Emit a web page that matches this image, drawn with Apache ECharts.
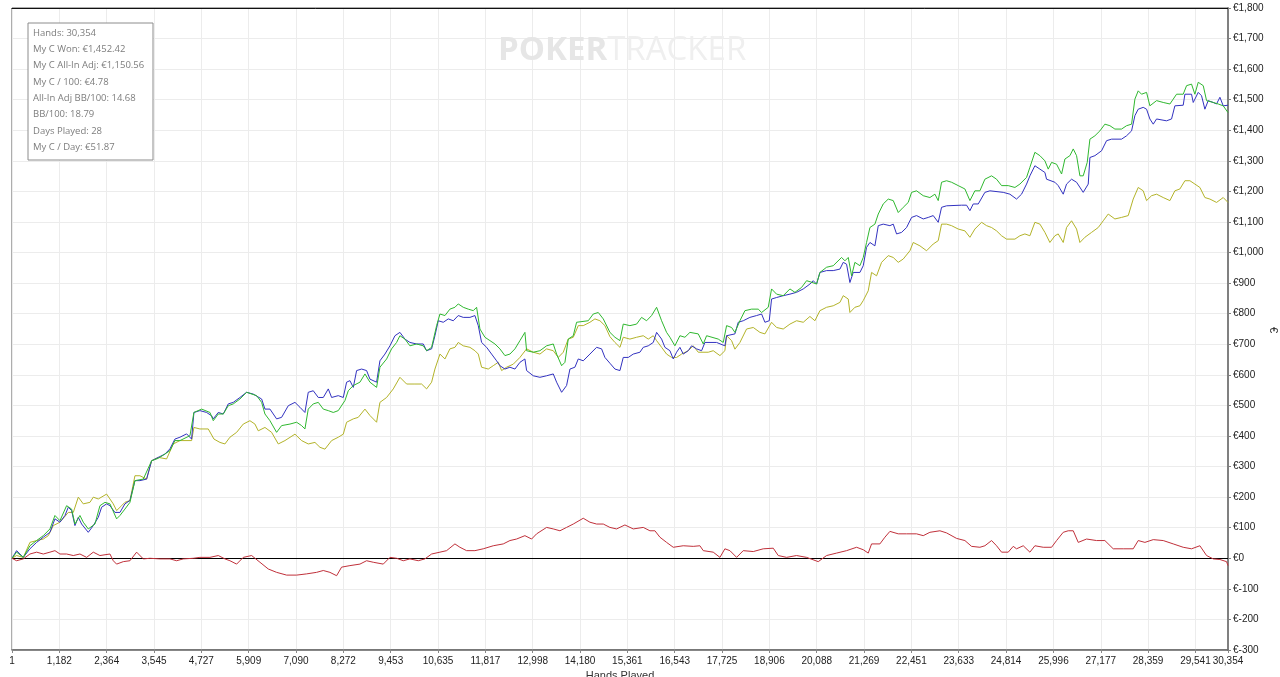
<!DOCTYPE html>
<html>
<head>
<meta charset="utf-8">
<script src="https://cdn.jsdelivr.net/npm/echarts@6/dist/echarts.min.js"></script>
<style>
html,body{margin:0;padding:0;background:#fff;}
#chart{width:1280px;height:677px;}
</style>
</head>
<body>
<div id="chart"></div>
<script>
// ---- data (x = hand number, y = euro) ----
const statLines = [
  'Hands: 30,354',
  'My C Won: €1,452.42',
  'My C All-In Adj: €1,150.56',
  'My C / 100: €4.78',
  'All-In Adj BB/100: 14.68',
  'BB/100: 18.79',
  'Days Played: 28',
  'My C / Day: €51.87'
];
const yAxisTitle = '€';
const handsMin = 1;
const handsMax = 30354;
const handsStep = 1181.6;
const yMin = -300, yMax = 1800, yStep = 100;

const greenWon = [[1,0],[116,20],[283,3],[449,41],[616,58],[782,74],[948,96],[1073,140],[1198,123],[1364,172],[1489,161],[1572,112],[1697,140],[1780,118],[1905,96],[2072,112],[2196,172],[2321,183],[2446,178],[2612,129],[2696,140],[2820,161],[2945,183],[3070,254],[3278,259],[3486,319],[3652,327],[3819,341],[3944,352],[4068,385],[4193,385],[4443,401],[4542,477],[4734,488],[4942,477],[5025,450],[5150,472],[5275,472],[5400,499],[5524,505],[5691,521],[5857,543],[6107,532],[6232,510],[6315,472],[6440,450],[6606,412],[6731,434],[6939,439],[7105,445],[7230,434],[7313,423],[7396,488],[7521,505],[7646,510],[7771,488],[7896,483],[8020,477],[8145,483],[8312,516],[8395,548],[8520,565],[8686,576],[8811,603],[8936,576],[9102,559],[9185,625],[9352,652],[9476,685],[9601,706],[9684,728],[9809,717],[9934,695],[10100,701],[10267,695],[10350,679],[10475,690],[10600,761],[10683,799],[10808,794],[10932,815],[11057,821],[11140,832],[11265,821],[11390,815],[11515,810],[11598,821],[11681,750],[11806,723],[11931,712],[12056,701],[12180,685],[12305,663],[12430,668],[12555,685],[12680,712],[12804,739],[12846,679],[13012,674],[13179,679],[13345,695],[13512,701],[13595,668],[13720,630],[13803,641],[13886,717],[14011,728],[14094,772],[14385,777],[14510,799],[14635,804],[14760,783],[14926,739],[15051,723],[15176,712],[15259,766],[15425,761],[15592,766],[15716,788],[15841,777],[15966,794],[16091,821],[16216,777],[16340,739],[16424,723],[16548,695],[16673,728],[16798,723],[16923,739],[17131,734],[17256,701],[17339,728],[17630,717],[17755,706],[17838,761],[17963,755],[18046,739],[18171,777],[18296,810],[18462,815],[18628,815],[18712,804],[18878,821],[18961,881],[19086,864],[19252,859],[19419,881],[19544,870],[19710,886],[19835,908],[19960,903],[20001,902],[20084,897],[20168,935],[20334,952],[20500,957],[20708,984],[20792,973],[20875,984],[20958,924],[21041,968],[21166,957],[21249,984],[21332,1033],[21416,1082],[21540,1093],[21624,1126],[21748,1159],[21873,1175],[21998,1170],[22123,1131],[22248,1148],[22372,1164],[22456,1197],[22580,1202],[22747,1186],[22913,1180],[23038,1191],[23121,1170],[23204,1230],[23329,1235],[23454,1230],[23620,1219],[23787,1208],[23912,1170],[24036,1202],[24161,1202],[24286,1240],[24452,1251],[24577,1240],[24702,1219],[24868,1219],[25035,1213],[25160,1224],[25326,1246],[25409,1279],[25534,1328],[25659,1317],[25784,1300],[25867,1273],[25950,1295],[26075,1289],[26200,1257],[26283,1306],[26408,1317],[26491,1339],[26574,1317],[26657,1251],[26740,1251],[26840,1295],[26907,1371],[27032,1382],[27156,1398],[27281,1420],[27406,1415],[27531,1404],[27697,1404],[27822,1415],[27947,1420],[28030,1502],[28113,1529],[28196,1518],[28321,1524],[28404,1480],[28571,1497],[28737,1491],[28904,1486],[28987,1502],[29070,1518],[29236,1518],[29320,1546],[29444,1551],[29527,1518],[29611,1557],[29736,1546],[29819,1497],[29985,1491],[30110,1486],[30235,1480],[30354,1458]];

const blueLine = [[1,0],[116,25],[283,3],[449,31],[616,52],[782,69],[948,85],[1073,129],[1198,118],[1323,140],[1406,167],[1489,156],[1572,107],[1656,134],[1739,112],[1905,85],[2030,107],[2155,134],[2238,167],[2363,178],[2446,172],[2571,150],[2696,150],[2820,178],[2945,189],[3070,254],[3195,254],[3361,259],[3486,319],[3652,330],[3819,341],[3944,358],[4068,390],[4193,396],[4360,407],[4484,390],[4542,477],[4692,483],[4859,477],[4984,466],[5025,456],[5150,477],[5275,472],[5400,505],[5524,510],[5691,526],[5857,543],[6024,537],[6232,521],[6315,488],[6440,488],[6606,456],[6731,461],[6897,499],[7064,510],[7188,494],[7313,477],[7396,543],[7521,548],[7646,526],[7771,526],[7896,554],[7979,526],[8145,532],[8270,526],[8353,576],[8436,581],[8520,559],[8603,614],[8728,619],[8852,614],[8936,586],[9102,576],[9185,646],[9310,668],[9435,695],[9560,728],[9684,739],[9809,717],[9934,706],[10100,701],[10267,701],[10350,679],[10475,685],[10558,728],[10641,777],[10766,772],[10891,783],[11016,777],[11140,794],[11265,788],[11432,788],[11556,794],[11640,761],[11723,706],[11848,690],[11972,668],[12097,646],[12180,630],[12305,619],[12430,625],[12555,619],[12680,641],[12804,652],[12846,614],[13012,597],[13179,592],[13345,597],[13512,603],[13595,576],[13720,543],[13844,565],[13928,619],[14052,625],[14136,652],[14260,646],[14427,668],[14593,690],[14718,685],[14801,657],[14926,638],[15051,619],[15176,614],[15259,657],[15384,657],[15508,668],[15675,674],[15758,690],[15883,695],[16008,706],[16091,739],[16216,717],[16299,690],[16424,679],[16507,652],[16590,674],[16673,690],[16756,668],[16881,679],[16964,695],[17089,685],[17214,679],[17297,706],[17588,706],[17796,695],[17838,728],[18046,734],[18129,772],[18254,777],[18420,788],[18587,794],[18712,799],[18795,772],[18903,777],[18961,848],[19086,853],[19252,859],[19419,864],[19585,870],[19752,881],[19918,897],[20001,908],[20084,897],[20168,935],[20334,941],[20500,941],[20667,946],[20750,968],[20833,962],[20916,902],[21000,935],[21166,935],[21249,957],[21332,1017],[21416,1033],[21540,1022],[21624,1088],[21748,1093],[21915,1088],[21998,1093],[22081,1061],[22206,1066],[22331,1082],[22456,1115],[22580,1121],[22747,1110],[22872,1115],[22996,1121],[23121,1099],[23204,1148],[23329,1153],[23704,1155],[23828,1155],[23912,1137],[23995,1159],[24120,1159],[24286,1197],[24411,1202],[24744,1197],[24910,1191],[25076,1175],[25201,1191],[25326,1224],[25409,1251],[25534,1284],[25659,1273],[25784,1262],[25825,1240],[26033,1230],[26116,1219],[26241,1191],[26324,1224],[26449,1240],[26574,1230],[26740,1197],[26865,1224],[26907,1311],[27032,1317],[27198,1333],[27323,1366],[27448,1371],[27697,1371],[27822,1382],[27947,1398],[28030,1448],[28113,1469],[28238,1475],[28321,1469],[28404,1437],[28488,1420],[28571,1437],[28820,1431],[28945,1437],[29028,1480],[29236,1482],[29278,1518],[29444,1518],[29486,1491],[29611,1524],[29694,1513],[29777,1469],[29860,1497],[29985,1491],[30068,1486],[30152,1508],[30235,1480],[30354,1482]];

const yellowAllInAdj = [[1,0],[116,9],[283,3],[449,52],[616,58],[782,63],[907,74],[1032,107],[1198,118],[1406,150],[1531,150],[1656,200],[1780,178],[1947,183],[2030,200],[2155,194],[2363,210],[2446,194],[2529,178],[2612,156],[2737,172],[2820,183],[2945,189],[3070,270],[3195,270],[3361,259],[3486,319],[3652,330],[3860,325],[4027,374],[4193,385],[4484,385],[4542,428],[4692,423],[4900,423],[5042,390],[5067,396],[5192,379],[5316,374],[5441,396],[5608,412],[5774,439],[5940,450],[6065,439],[6148,417],[6315,428],[6481,412],[6648,374],[6814,385],[7064,406],[7230,385],[7396,374],[7563,379],[7688,363],[7812,357],[7979,385],[8145,396],[8270,406],[8353,445],[8520,456],[8644,461],[8811,488],[8936,467],[9102,445],[9185,510],[9352,526],[9518,554],[9684,592],[9851,570],[10059,570],[10225,570],[10350,554],[10475,576],[10558,619],[10683,668],[10808,652],[10932,685],[11057,690],[11140,706],[11265,695],[11432,690],[11556,679],[11640,668],[11723,625],[11889,619],[12014,630],[12139,641],[12222,614],[12347,625],[12513,635],[12680,657],[12846,685],[13012,674],[13179,668],[13345,685],[13512,679],[13636,657],[13761,674],[13886,717],[14011,723],[14136,761],[14260,761],[14427,772],[14552,783],[14676,777],[14801,761],[14926,725],[15051,706],[15176,690],[15259,723],[15425,717],[15592,723],[15758,728],[15883,717],[16008,728],[16091,712],[16216,690],[16340,668],[16465,657],[16590,657],[16715,668],[16881,679],[17006,695],[17131,674],[17380,674],[17505,679],[17672,663],[17796,679],[17838,728],[17963,712],[18046,684],[18171,706],[18337,750],[18504,755],[18670,739],[18795,734],[18961,772],[19086,755],[19252,750],[19419,766],[19585,777],[19752,772],[19918,791],[20043,777],[20168,810],[20334,821],[20500,826],[20667,837],[20750,859],[20875,848],[20916,804],[21041,821],[21166,826],[21249,843],[21374,875],[21457,935],[21582,924],[21707,968],[21873,990],[21998,984],[22123,968],[22248,979],[22414,1006],[22497,1033],[22664,1022],[22830,1006],[22996,1028],[23121,1039],[23204,1093],[23329,1093],[23454,1088],[23620,1077],[23787,1071],[23912,1050],[24036,1077],[24203,1099],[24328,1088],[24452,1082],[24577,1071],[24702,1055],[24827,1044],[25035,1044],[25160,1055],[25284,1061],[25409,1055],[25534,1099],[25659,1093],[25784,1066],[25908,1033],[26033,1055],[26116,1061],[26241,1033],[26324,1082],[26449,1104],[26574,1077],[26657,1033],[26782,1050],[26948,1066],[27115,1082],[27240,1104],[27364,1126],[27531,1110],[27697,1115],[27864,1121],[27988,1175],[28113,1213],[28238,1202],[28321,1170],[28446,1186],[28571,1191],[28737,1180],[28904,1170],[29028,1202],[29153,1208],[29278,1235],[29403,1235],[29528,1224],[29652,1213],[29777,1180],[29902,1175],[30068,1164],[30235,1180],[30354,1164]];

const redLine = [[1,0],[116,-8],[283,-2],[449,14],[616,20],[782,14],[948,20],[1073,25],[1198,14],[1364,14],[1531,9],[1697,14],[1864,3],[2030,20],[2196,9],[2446,14],[2529,-8],[2612,-19],[2779,-11],[2945,-8],[3112,20],[3278,-2],[3444,0],[3694,-2],[3944,-2],[4110,-8],[4276,-2],[4526,0],[4692,3],[4942,3],[5150,9],[5316,-2],[5441,-8],[5608,-19],[5774,3],[5982,9],[6190,-13],[6398,-35],[6606,-46],[6856,-55],[7105,-55],[7355,-51],[7604,-46],[7771,-40],[7937,-46],[8104,-57],[8228,-29],[8436,-24],[8686,-19],[8852,-8],[9019,-13],[9268,-19],[9435,3],[9601,0],[9768,-8],[9934,-2],[10142,-8],[10308,-2],[10475,14],[10683,20],[10849,25],[11057,47],[11182,36],[11348,25],[11556,25],[11764,31],[12014,41],[12264,47],[12430,58],[12596,63],[12804,74],[12971,63],[13096,80],[13345,101],[13512,96],[13678,90],[13844,101],[14011,112],[14260,131],[14427,118],[14593,112],[14760,112],[14926,101],[15092,96],[15300,109],[15508,96],[15758,101],[15924,90],[16049,90],[16174,69],[16340,52],[16507,36],[16756,41],[17006,39],[17172,41],[17256,25],[17505,20],[17672,3],[17796,31],[17921,25],[18088,3],[18254,25],[18504,22],[18753,31],[19003,33],[19128,9],[19336,3],[19585,9],[19835,3],[20126,-11],[20334,9],[20584,17],[20833,25],[21083,36],[21249,28],[21374,17],[21457,47],[21665,47],[21790,69],[21915,88],[22123,80],[22331,80],[22580,80],[22747,74],[22913,85],[23163,90],[23329,83],[23579,65],[23787,58],[23953,39],[24161,36],[24286,41],[24452,58],[24577,41],[24702,20],[24868,20],[24993,39],[25076,31],[25243,41],[25409,20],[25534,41],[25742,36],[25950,36],[26075,58],[26241,85],[26366,90],[26491,90],[26616,52],[26824,63],[27073,58],[27281,58],[27489,31],[27739,31],[27988,31],[28113,58],[28280,52],[28488,61],[28737,58],[28987,47],[29236,36],[29444,31],[29652,41],[29819,9],[29985,-2],[30152,-4],[30318,-11],[30354,-24]];

// ---- helpers ----
function fmtThousands(n){
  const neg = n < 0; let s = String(Math.abs(Math.round(n)));
  s = s.replace(/\B(?=(\d{3})+(?!\d))/g, ',');
  return (neg ? '-' : '') + s;
}
// axis runs on offset (hand - 1) so the ticks start at a multiple of the interval
const toOffset = arr => arr.map(p => [p[0] - handsMin, p[1]]);

const chart = echarts.init(document.getElementById('chart'), null, {renderer: 'canvas'});
const labelFont = '"Liberation Sans", Arial, sans-serif';

const lineSeries = (name, data, color, z) => ({
  name, type: 'line', data: toOffset(data), showSymbol: false, symbol: 'none',
  lineStyle: {color, width: 1}, itemStyle: {color}, z, animation: false
});

chart.setOption({
  backgroundColor: '#ffffff',
  animation: false,
  grid: {left: 12, right: 52, top: 8, bottom: 27, outerBoundsMode: 'none', containLabel: false,
    show: true, borderColor: '#5a5a5a', borderWidth: 1, backgroundColor: 'transparent'},
  xAxis: [{
    type: 'value', min: 0, max: handsMax - handsMin, interval: handsStep,
    name: 'Hands Played', nameLocation: 'middle', nameGap: 19,
    nameTextStyle: {color: '#333', fontSize: 11, fontFamily: labelFont},
    axisLine: {show: true, onZero: false, lineStyle: {color: '#666', width: 1.5}},
    axisTick: {show: true, length: 3, lineStyle: {color: '#888'}},
    axisLabel: {color: '#222', fontSize: 10, fontFamily: labelFont, margin: 6,
      formatter: v => fmtThousands(Math.floor(v + 1e-6) + handsMin)},
    splitLine: {show: true, lineStyle: {color: '#ececec', width: 1}}
  }, {
    type: 'value', position: 'top', min: 0, max: handsMax - handsMin,
    axisLine: {show: true, onZero: false, lineStyle: {color: '#111', width: 1}},
    axisTick: {show: false}, axisLabel: {show: false}, splitLine: {show: false}
  }],
  yAxis: [{
    type: 'value', position: 'right', min: yMin, max: yMax, interval: yStep,
    axisLine: {show: true, onZero: false, lineStyle: {color: '#808080', width: 2}},
    axisTick: {show: true, length: 3, lineStyle: {color: '#808080'}},
    axisLabel: {color: '#222', fontSize: 10, fontFamily: labelFont, margin: 5,
      formatter: v => '€' + fmtThousands(v)},
    splitLine: {show: true, lineStyle: {color: '#ececec', width: 1}}
  }],
  graphic: {
    elements: [
      {
        type: 'text', left: 498, top: 34, z: 1, zlevel: 0, silent: true,
        style: {
          text: '{b|POKER}{l|TRACKER}',
          rich: {
            b: {fontSize: 33, fontWeight: 'bold', fill: '#e6e6e6', fontFamily: '"Open Sans", Lato, sans-serif'},
            l: {fontSize: 33, fontWeight: 'normal', fill: '#efefef', fontFamily: '"Open Sans", Lato, sans-serif'}
          }
        }
      },
      {
        type: 'text', x: 1273, y: 330, rotation: -Math.PI / 2, z: 10, silent: true,
        style: {text: yAxisTitle, fill: '#333', fontSize: 11, fontFamily: labelFont,
          align: 'center', verticalAlign: 'middle'}
      },
      {
        type: 'rect', x: 28, y: 23, z: 100, zlevel: 1, silent: true,
        shape: {x: 0, y: 0, width: 125, height: 137},
        style: {fill: '#ffffff', stroke: '#8c8c8c', lineWidth: 1}
      }
    ].concat(statLines.map((t, i) => ({
      type: 'text', x: 33, y: 33 + i * 16.3, z: 101, zlevel: 1, silent: true,
      style: {text: t, fill: '#7d7d7d', fontSize: 9.5, fontFamily: '"Open Sans", "Noto Sans", sans-serif',
        verticalAlign: 'middle'}
    })))
  },
  series: [
    Object.assign(lineSeries('My C All-In Adj', yellowAllInAdj, '#b3b329', 3), {
      markLine: {silent: true, symbol: 'none', label: {show: false},
        lineStyle: {color: '#000', width: 1, type: 'solid'}, data: [{yAxis: 0}], z: 2}
    }),
    lineSeries('Showdown', blueLine, '#3232c0', 4),
    lineSeries('My C Won', greenWon, '#2fb82f', 5),
    lineSeries('Non-Showdown', redLine, '#c0303a', 6)
  ]
});
</script>
</body>
</html>
